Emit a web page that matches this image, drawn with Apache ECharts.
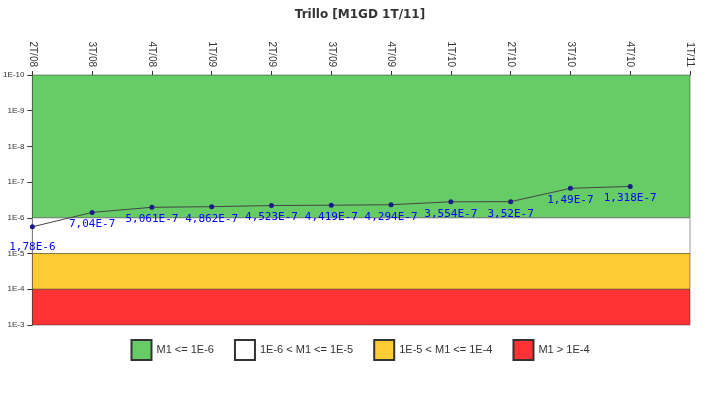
<!DOCTYPE html><html><head><meta charset="utf-8">
<script src="https://cdn.jsdelivr.net/npm/echarts@6/dist/echarts.min.js"></script></head>
<body style="margin:0"><div id="c" style="width:720px;height:400px"></div>
<script>
const categories=['2T/08','3T/08','4T/08','1T/09','2T/09','3T/09','4T/09','1T/10','2T/10','3T/10','4T/10','1T/11'];
const values=[1.78e-6,7.04e-7,5.061e-7,4.862e-7,4.523e-7,4.419e-7,4.294e-7,3.554e-7,3.52e-7,1.49e-7,1.318e-7];
const labels=['1,78E-6','7,04E-7','5,061E-7','4,862E-7','4,523E-7','4,419E-7','4,294E-7','3,554E-7','3,52E-7','1,49E-7','1,318E-7'];
const bands=[
 {name:'M1 <= 1E-6',from:1e-10,to:1e-6,color:'#66cc66'},
 {name:'1E-6 < M1 <= 1E-5',from:1e-6,to:1e-5,color:'#ffffff'},
 {name:'1E-5 < M1 <= 1E-4',from:1e-5,to:1e-4,color:'#ffcc33'},
 {name:'M1 > 1E-4',from:1e-4,to:1e-3,color:'#ff3333'}];
const chart=echarts.init(document.getElementById('c'));
const series=bands.map(b=>({name:b.name,type:'bar',data:[],itemStyle:{color:b.color,borderColor:'#333',borderWidth:1}}));
series.push({type:'line',data:values.map((v,i)=>({value:v,label:{show:true,position:'bottom',distance:i==0?8:4,offset:i==0?[0,4]:[0,0],formatter:labels[i]}})),
 symbol:'circle',symbolSize:5,itemStyle:{color:'#1a1a8c'},lineStyle:{color:'#444',width:1},
 label:{color:'#0000ff',fontFamily:'DejaVu Sans Mono',fontSize:11},z:5,
 markArea:{silent:true,data:bands.map(b=>[{yAxis:b.from,itemStyle:{color:b.color,borderColor:'#333',borderWidth:0.5,opacity:1}},{yAxis:b.to}])}});
chart.setOption({animation:false,
 title:{text:'Trillo [M1GD 1T/11]',left:'center',top:4,textStyle:{fontSize:12,fontWeight:'bold',color:'#333',fontFamily:'DejaVu Sans'}},
 grid:{left:30,right:30,top:75,bottom:75},
 legend:{bottom:34,icon:'rect',itemWidth:20,itemHeight:20,itemGap:20,textStyle:{fontSize:11,color:'#333'},data:bands.map(b=>b.name)},
 xAxis:{type:'category',data:categories,position:'top',boundaryGap:false,
  axisLabel:{rotate:90,fontSize:10,color:'#333',interval:0},axisTick:{show:true,inside:false,length:4},axisLine:{lineStyle:{color:'#333'}},splitLine:{show:false}},
 yAxis:{type:'log',logBase:10,min:1e-10,max:1e-3,inverse:true,
  axisLabel:{fontSize:8,color:'#333',formatter:v=>'1E'+Math.round(Math.log10(v))},
  axisLine:{show:true,lineStyle:{color:'#333'}},axisTick:{show:true},splitLine:{show:false}},
 series});
</script></body></html>
